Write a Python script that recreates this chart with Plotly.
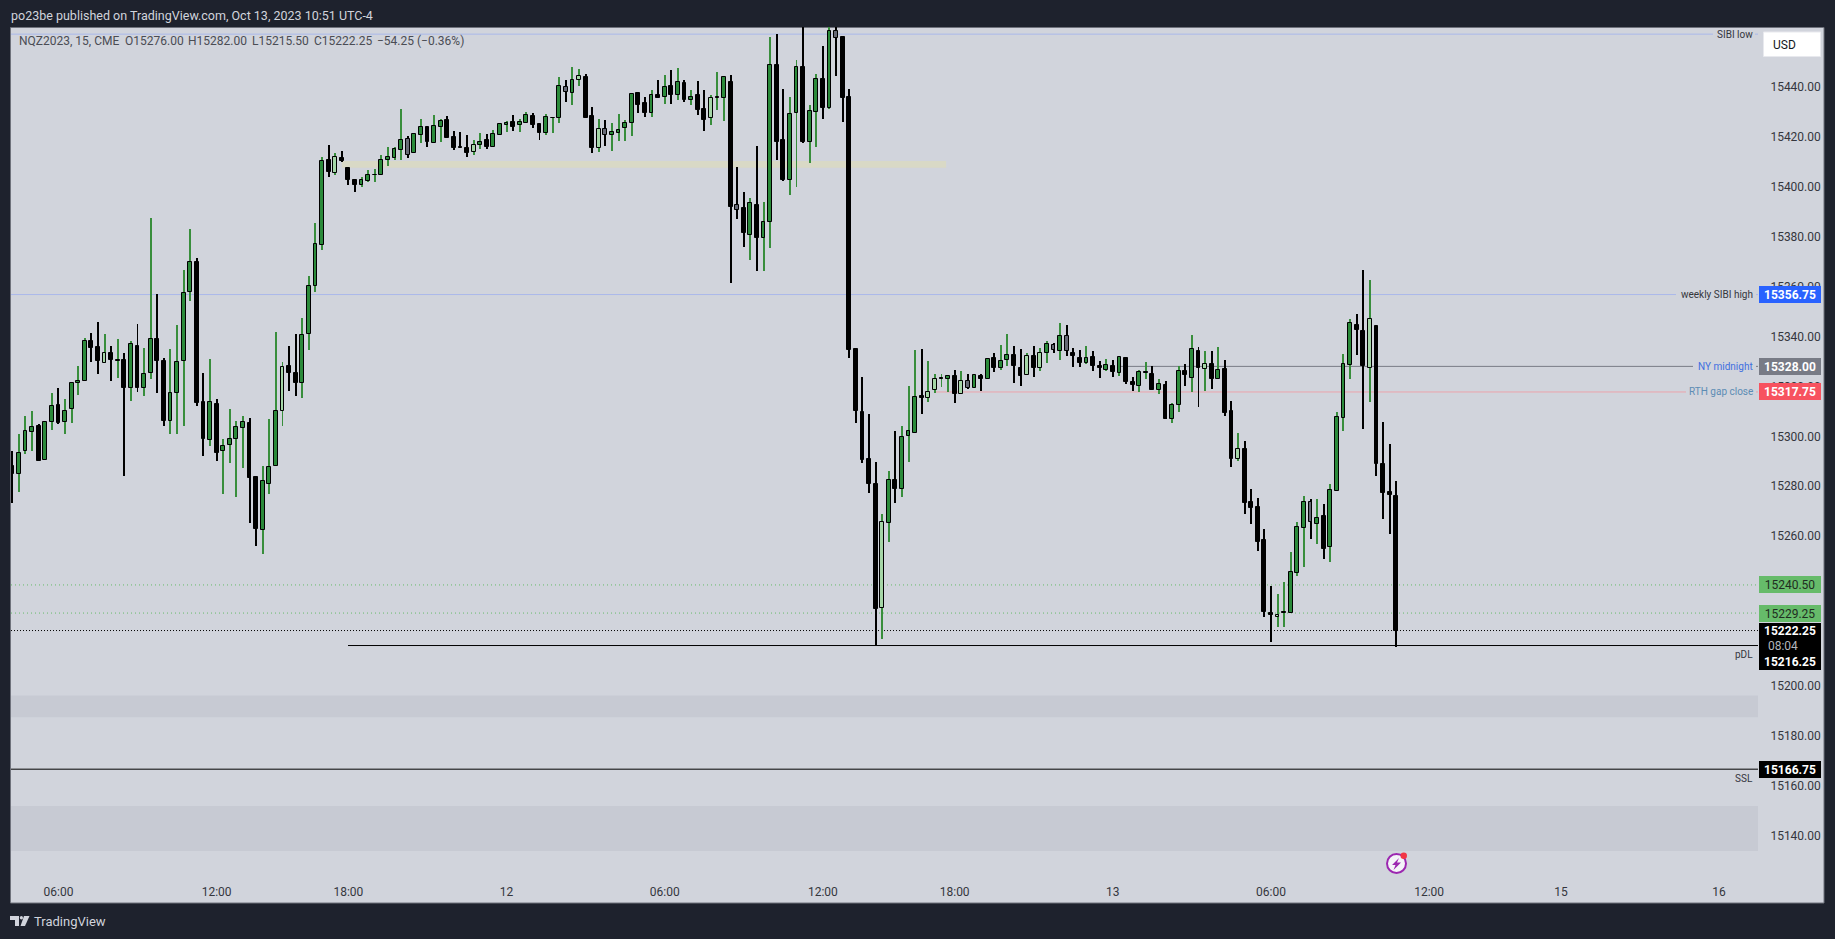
import plotly.graph_objects as go

# ---- bar kinds: G green, K black, L light green, Y grey, D black dash with green wick
kinds = list(
    "KGGGKGGKGG" "GGKKLKDKGK" "GGKKGGGGKK" "GKGGGGKKGG" "GLKKGGGGKL"
    "KKKGGDGGGG" "YGGKGGKKKK" "LGKGGGKGGK" "KGDGYGLKKL" "YGGGGKKGKG"
    "KGKGKKLDGK" "YKGKGGKKGG" "KGGKGYKKKK" "KKLGKGGGKL" "LDGKLYGKGK"
    "GGKKLKLGYG" "YKKGKKGKGK" "KGDKGKGGKG" "KLKGKKLKKK" "KKLDGGGYGK"
    "GGGGKKLKKK" "K"
)

highs = [15294,15301,15308.25,15310.25,15305,15306.25,15317.5,15319.5,15315,15321.75,15328.25,15339.5,15341.5,15345.75,15341,15336.25,15339,15333.5,15338.25,15345,15335.5,15387.5,15357,15331.5,15335,15344.75,15366.75,15383,15371.5,15325.5,15331,15314.75,15298.75,15311,15306.25,15308.25,15307.5,15283.75,15288.25,15306.75,15341.75,15329.75,15336.25,15341,15347.5,15364.25,15385.5,15411.75,
 15416.75,15413.25,15414.25,15407.5,15403,15403.75,15406.75,15407,15412.75,15415.75,15415.75,15431,15420.25,15421,15427,15424.25,15428.75,15427,15428.25,15422.25,15421.75,15420.75,15418.75,15421.25,15421,15422.75,15425,15426.25,15428.75,15427,15429.75,15429.25,15425,15429,15427.5,15443.75,15442.75,15447.75,15447,15445,15431.75,15427,15426.75,15425.5,15429,15426.75,15437.5,15437.5,15435.75,15438.75,15442.75,15444.75,15446.75,15447.5,15442.75,15438.75,15442.25,15438.75,15436.75,15445.75,15443.75,
 15444.75,15407.75,15397.75,15395.5,15416.25,15393.75,15459.75,15461,15439,15435.75,15450.75,15470,15432.75,15445,15456.25,15464.75,15468,15460.25,15439,
 15335,15323.75,15309,15289.75,15269,15286.25,15302.25,15304.25,15320.25,15334.75,15335,15330.25,15325,15324.75,15324.25,15326.75,15326.25,15325,15325,15324.75,15331,15333.5,15336.75,15341,15336.25,15335,15333.25,15336.25,15335.5,15338.25,15337.5,15345.5,15344.75,15335.5,15334.75,15336.25,15334.25,15330.25,15331,15330.75,15332.25,15331.75,15323.75,15326.75,15329.75,15328.25,15322.75,15322.25,15313.5,15328,15329,15340.75,15335.75,15334.25,15334.25,15335.75,15330.75,15314.25,15301.5,
 15298.25,15278.75,15275.5,15263,15240.25,15236.75,15241.5,15253.75,15265.75,15276.25,15274.75,15274.75,15272.75,15280.75,15309.75,15333,15347,15349,15366.75,15362.75,15344.25,15305.75,15296.75,15282]
body_tops = [15288.25,15293.25,15302.25,15303.75,15304.25,15305.75,15312.25,15312.5,15310.25,15321.25,15322.25,15338.25,15338.25,15335.75,15333.25,15333.25,15330.5,15330.5,15337,15336.25,15325,15339,15339,15330.25,15317.25,15329.75,15357.25,15369.75,15369.75,15313.75,15313.75,15313,15296.25,15299,15303.75,15305.75,15305.25,15283.75,15282.25,15287.75,15310.25,15327.75,15328.25,15325.25,15340.5,15360.25,15377,15410.25,
 15410.5,15411.75,15411.25,15407.25,15402.5,15402.5,15404.5,15404.75,15410.5,15411.75,15415,15418.5,15419,15421,15423.75,15423.75,15424.25,15426.25,15426.5,15419.75,15415.75,15415.25,15416.5,15417.75,15418.75,15421,15425,15425.25,15425.75,15425.75,15428.75,15428.25,15425,15427.75,15427.5,15440.25,15439.75,15442.75,15444.25,15443.75,15428.25,15423,15423,15421.75,15422.5,15425.25,15437,15437.25,15433.25,15436.5,15436.5,15439.75,15440.25,15441.75,15441.25,15435.75,15436.5,15431,15435.25,15435.75,15443.75,
 15441.75,15392.5,15391.25,15393.25,15392.5,15385.75,15448.5,15448.5,15418.5,15429,15447.75,15447.75,15430.25,15443,15443,15462.25,15462.25,15459.75,15435.75,
 15335,15309.75,15291,15281,15265.75,15282.5,15282.5,15299.75,15302.25,15315.75,15316.25,15317.75,15323,15323.25,15324.25,15324.25,15322.25,15322.25,15324.5,15324.25,15331,15331.25,15330.25,15332.5,15332.5,15327.25,15332.25,15332.25,15333.25,15337,15336.5,15340.25,15340.25,15333.25,15331.25,15331.25,15331.75,15328.25,15328.5,15328.25,15331.75,15331.25,15321.75,15325.75,15325.75,15325,15321,15320.5,15312.5,15326.25,15326.25,15335,15334.25,15329,15329,15326.5,15327,15310.25,15294.75,
 15295,15273.75,15271.75,15258.5,15229.25,15228.5,15229.5,15245.75,15263.75,15273.75,15273.75,15267.25,15268.25,15278.5,15307.75,15329,15345.25,15344.5,15342.25,15347,15344.25,15289,15277.75,15276]
body_bottoms = [15284.75,15284.75,15294.25,15301.75,15290,15290.5,15305.75,15305.5,15305.75,15311,15321.25,15322.25,15335.25,15330,15329.25,15330.5,15330.25,15319.25,15319.25,15319.5,15319.5,15325.25,15330,15306,15306.25,15317.25,15330.25,15357.75,15313.25,15298.75,15298.5,15293.5,15294,15296.5,15299,15303.5,15283.5,15262.75,15262.5,15281,15288,15310.25,15325.25,15321.25,15321.25,15341,15360.25,15376.75,
 15406,15405.5,15410.25,15402.5,15400.5,15400.5,15402.25,15404.5,15404.5,15410.75,15411.25,15414.5,15412.5,15413.25,15420.5,15418,15417.5,15424,15419.5,15415.25,15415.25,15413.5,15413.75,15416.5,15416,15416,15420.75,15424.5,15424,15424.5,15425.5,15424.5,15421.5,15421.25,15427.25,15427.5,15438,15437.5,15442.5,15427.5,15415.25,15415.5,15420.5,15420.5,15421.5,15423.25,15425.5,15432.75,15429.5,15429.5,15435.5,15435.75,15436.5,15436.5,15434.75,15434.5,15430.75,15426.75,15427.5,15435.25,15435.25,
 15392,15390.5,15381.25,15380.5,15379.25,15379.25,15385.75,15418,15402.75,15402.5,15429.25,15418,15418,15430,15431.5,15431.5,15459.5,15435.25,15334.75,
 15310,15290.5,15280.75,15230.75,15231.25,15265.25,15278.75,15278.75,15300,15301.5,15315.25,15315.25,15318.5,15323,15322.75,15316.75,15316.75,15319.25,15319.25,15322.75,15322.75,15327.25,15327.5,15330.5,15328,15324,15324.5,15327.5,15327.5,15333.25,15334.75,15334,15334,15332,15329.25,15329.25,15328,15327.25,15326.75,15325.75,15325.25,15321.75,15320.5,15320,15325.25,15318.5,15318.5,15306.75,15306.75,15312.5,15324.5,15323.5,15327.25,15327,15322.75,15322.75,15309.5,15290.75,15290.75,
 15273.5,15271.5,15257.5,15229.5,15228.5,15227.5,15229.25,15229.25,15245.25,15263.25,15265.75,15264.75,15254.75,15255.5,15278.25,15307.5,15328.75,15342.75,15328,15327.5,15288.75,15277.5,15276.5,15222.25]
lows = [15273.5,15277.75,15292.75,15294,15290,15290.5,15302.5,15305,15300.75,15305.5,15316.5,15322,15329.75,15325,15329.25,15322.25,15323.5,15284.25,15314.25,15317.75,15316.25,15323,15317.5,15304.25,15301,15300.75,15304.25,15354.25,15312.25,15292.25,15296.25,15290.25,15276.75,15289.5,15275.75,15287.5,15265.5,15256.25,15253,15277,15288,15304.25,15318.25,15316.25,15315.5,15334.75,15357.75,15374.5,
 15404,15404.75,15409.75,15400.75,15398,15400,15402,15401.75,15404.5,15408.25,15410.75,15410.75,15411.25,15413.25,15417.5,15415.75,15417.5,15417.75,15419.5,15414.75,15415.25,15411.75,15412.75,15415,15415,15416,15420.75,15421.75,15422.25,15421.75,15425.5,15423.25,15418.75,15420.75,15421.25,15425.25,15433.75,15432.75,15440.25,15427.25,15413.5,15413.75,15416.25,15414.25,15418.25,15418.25,15420.25,15429.25,15427.75,15427.75,15435.25,15433,15433,15434.75,15433.75,15432.75,15428.75,15422.25,15424.75,15430.5,15426.25,
 15361.5,15387,15375.75,15370.75,15366.25,15366.25,15375.5,15410.75,15402.25,15396.75,15399.75,15417.5,15409.5,15415.75,15427,15431,15444.25,15425.75,15331.5,
 15305.5,15289.25,15277.25,15216.5,15218.75,15257.75,15273.5,15275.75,15289.75,15301.5,15309,15313.75,15317.5,15319.75,15317.75,15313.5,15316.75,15318.75,15319.25,15318.25,15322.75,15325.75,15326.75,15328.25,15321.5,15320.25,15324.5,15323.75,15326.25,15329.5,15333.5,15330.75,15332.25,15327.75,15327.75,15329,15326.25,15323.5,15326.25,15323.75,15324.25,15321,15318.25,15317.75,15323,15318.5,15317,15306.75,15305.5,15309.75,15320.25,15317.75,15311.75,15318.25,15318.75,15322.75,15308.25,15287.75,15290.25,
 15268.75,15265,15254.25,15227.5,15217.5,15223.75,15223.5,15229.25,15244.25,15247.75,15259,15256.75,15251,15249.5,15278.25,15302.25,15323,15332.75,15302.75,15313.75,15284.25,15266.75,15260.75,15215.5]

assert len(kinds) == len(highs) == len(body_tops) == len(body_bottoms) == len(lows) == 211, (
    len(kinds), len(highs), len(body_tops), len(body_bottoms), len(lows))

tick_bars = [7, 31, 51, 75, 99, 123, 143, 167, 191, 215, 235, 259]
tick_labels = ["06:00", "12:00", "18:00", "12", "06:00", "12:00", "18:00", "13", "06:00", "12:00", "15", "16"]
price_ticks = [15140, 15160, 15180, 15200, 15220, 15240, 15260, 15280, 15300, 15320, 15340, 15360, 15380, 15400, 15420, 15440]

sibi_low = 15461
weekly_sibi_high = 15356.75
ny_midnight = 15328.00
rth_gap_close = 15317.75
fvg_a = 15240.50
fvg_b = 15229.25
last_close = 15222.25
pdl = 15216.25
ssl = 15166.75
beige_zone = (15407.5, 15410.25)
grey_zones = [(15187.5, 15196.25), (15134, 15152)]
legend_tokens = ["NQZ2023, 15, CME", "O15276.00", "H15282.00", "L15215.50", "C15222.25", "−54.25 (−0.36%)"]

# ---- page geometry
W, H = 1835, 939
L, R, T, B = 11, 1758, 27, 875
BAR0, STEP = 12.3, 6.59
PX_PER_POINT = 2.498
x_range = [(L - BAR0) / STEP, (R - BAR0) / STEP]
y_range = [15440 - (B - 86.6) / PX_PER_POINT, 15440 + (86.6 - T) / PX_PER_POINT]

def fx(px):
    return (px - L) / (R - L)

def fy(py):
    return (B - py) / (B - T)

BG = "#1e222d"
PANEL = "#d1d4dc"
FONT = "Roboto, 'Noto Sans', sans-serif"
DARK = "#34363d"

n = len(highs)
bars = list(range(n))
WICK = {"G": "#388e3c", "L": "#388e3c", "D": "#388e3c", "K": "#000000", "Y": "#000000"}
FILL = {"G": "#2b8a3a", "L": "#a5d6a7", "K": "#000000", "Y": "#666975", "D": "#000000"}

fig = go.Figure()
fig.add_trace(go.Bar(
    x=bars, base=lows, y=[h - l for h, l in zip(highs, lows)], width=0.15,
    marker=dict(color=[WICK[k] for k in kinds], line=dict(width=0)),
    hoverinfo="skip", showlegend=False,
))
fig.add_trace(go.Bar(
    x=bars, base=body_bottoms, y=[t - b for t, b in zip(body_tops, body_bottoms)], width=0.58,
    marker=dict(color=[FILL[k] for k in kinds], line=dict(width=1, color="#000000")),
    hoverinfo="skip", showlegend=False,
))

shapes = []
shapes.append(dict(type="rect", xref="paper", yref="paper", layer="below",
                   x0=fx(10.5), x1=fx(1824), y0=fy(903), y1=fy(27.5),
                   fillcolor=PANEL, line=dict(color="#6f727c", width=1)))
for lo, hi in grey_zones:
    shapes.append(dict(type="rect", xref="paper", yref="y", layer="below", x0=0, x1=1,
                       y0=lo, y1=hi, fillcolor="#c7cad3", line=dict(width=0)))
shapes.append(dict(type="rect", xref="x", yref="y", layer="below", x0=50, x1=141.7,
                   y0=beige_zone[0], y1=beige_zone[1], fillcolor="#d9d9c6", line=dict(width=0)))

def hline(price, px0, px1, color, dash="solid", width=1):
    shapes.append(dict(type="line", xref="paper", yref="y", layer="below",
                       x0=fx(px0), x1=fx(px1), y0=price, y1=price,
                       line=dict(color=color, width=width, dash=dash)))

BLUE_LINE = "#aab8ea"
hline(sibi_low, L, 1713, BLUE_LINE); hline(sibi_low, 1755, R, BLUE_LINE)
hline(weekly_sibi_high, L, 1676, BLUE_LINE); hline(weekly_sibi_high, 1756, R, BLUE_LINE)
hline(ny_midnight, 1121, 1693, "#787b86"); hline(ny_midnight, 1756, R, "#787b86")
hline(rth_gap_close, 935, 1686, "#eba3ac"); hline(rth_gap_close, 1756, R, "#eba3ac")
hline(fvg_a, L, R, "#66bb6a", dash="1px,3px")
hline(fvg_b, L, R, "#66bb6a", dash="1px,3px")
hline(last_close, L, R, "#000000", dash="1px,2px")
hline(pdl, 348, R, "#000000")
hline(ssl, L, R, "#000000")

shapes.append(dict(type="rect", xref="paper", yref="paper", x0=fx(1763.5), x1=fx(1820.5), y0=fy(56.5), y1=fy(32),
                   fillcolor="#ffffff", line=dict(color="#e8e9ee", width=1), layer="above"))

def poly(pts):
    return "M " + " L ".join(f"{fx(a):.6f},{fy(b):.6f}" for a, b in pts) + " Z"

for pts in [
    [(10, 916), (19, 916), (19, 926), (15, 926), (15, 920), (10, 920)],
    [(24, 916), (29.5, 916), (25, 926), (20.5, 926)],
]:
    shapes.append(dict(type="path", xref="paper", yref="paper", path=poly(pts),
                       fillcolor="#d1d4dc", line=dict(width=0)))
shapes.append(dict(type="circle", xref="paper", yref="paper", x0=fx(19.8), x1=fx(23), y0=fy(919.5), y1=fy(916),
                   fillcolor="#d1d4dc", line=dict(width=0)))

shapes.append(dict(type="circle", xref="paper", yref="paper", x0=fx(1387), x1=fx(1406), y0=fy(873), y1=fy(854),
                   fillcolor="#f4f4f8", line=dict(color="#9c27b0", width=2)))
shapes.append(dict(type="path", xref="paper", yref="paper",
                   path=poly([(1399, 858), (1392, 865), (1395.5, 865), (1393.5, 870), (1401, 862.5), (1397, 862.5)]),
                   fillcolor="#9c27b0", line=dict(width=0)))
shapes.append(dict(type="circle", xref="paper", yref="paper", x0=fx(1400.5), x1=fx(1407), y0=fy(859), y1=fy(852.5),
                   fillcolor="#f23645", line=dict(width=0)))

ann = []

def text(px, py, s, color=DARK, size=12, anchor="left", **kw):
    ann.append(dict(xref="paper", yref="paper", x=fx(px), y=fy(py), text=s, showarrow=False,
                    xanchor=anchor, yanchor="middle", borderpad=0,
                    font=dict(family=FONT, size=size, color=color), **kw))

def line_label(price, s, color=DARK, shift=0):
    ann.append(dict(xref="paper", yref="y", x=fx(1753), y=price, yshift=shift, text=s, showarrow=False,
                    xanchor="right", yanchor="middle", borderpad=0, borderwidth=0,
                    font=dict(family=FONT, size=10, color=color)))

def price_box(price, bg, color="#ffffff", shift=0, label=None, h=17, align="center"):
    ann.append(dict(xref="paper", yref="y", x=fx(1759), y=price, yshift=shift,
                    text=f"<b>{price:.2f}</b>" if label is None else label,
                    showarrow=False, xanchor="left", yanchor="middle", width=62, height=h, align=align,
                    valign="middle", bgcolor=bg, borderpad=0, borderwidth=0,
                    font=dict(family=FONT, size=12, color=color)))

text(10, 15, "po23be published on TradingView.com, Oct 13, 2023 10:51 UTC-4", color="#d1d4dc", size=12.5)
for px, token in zip([18, 123.7, 187.3, 251, 312.7, 376], legend_tokens):
    text(px, 41.5, token, color="#4a4c54", size=12)
text(33, 921, "TradingView", color="#d1d4dc", size=13)
text(1772, 44.5, "USD", color="#131722", size=12)

line_label(sibi_low, "SIBI low")
line_label(weekly_sibi_high, "weekly SIBI high")
line_label(ny_midnight, "NY midnight", color="#3f6fe0")
line_label(rth_gap_close, "RTH gap close", color="#5c8cb4")
line_label(pdl, "pDL", shift=-9)
line_label(ssl, "SSL", shift=-9)

price_box(weekly_sibi_high, "#2962ff")
price_box(ny_midnight, "#787b86")
price_box(rth_gap_close, "#f7525f")
price_box(fvg_a, "#66bb6a", color="#1f2d21", label=f"{fvg_a:.2f}")
price_box(fvg_b, "#66bb6a", color="#1f2d21", label=f"{fvg_b:.2f}")
price_box(last_close, "#000000", h=16)
price_box(pdl, "#000000", label="&nbsp;&nbsp;&nbsp;08:04", color="#b4b6bd", h=16, align="left")
price_box(pdl, "#000000", shift=-16, h=16)
price_box(ssl, "#000000")

fig.update_layout(
    width=W, height=H, autosize=False,
    margin=dict(l=L, r=W - R, t=T, b=H - B, pad=0),
    paper_bgcolor=BG, plot_bgcolor=PANEL,
    barmode="overlay", bargap=0, showlegend=False,
    shapes=shapes, annotations=ann,
    font=dict(family=FONT, size=12, color=DARK),
    xaxis=dict(range=x_range, tickmode="array", tickvals=tick_bars, ticktext=tick_labels,
               showgrid=False, zeroline=False, showline=False, ticks="outside", ticklen=6,
               tickcolor="rgba(0,0,0,0)", tickfont=dict(family=FONT, size=12, color=DARK), fixedrange=True),
    yaxis=dict(range=y_range, side="right", tickmode="array", tickvals=price_ticks,
               ticktext=[f"{p:.2f}" for p in price_ticks],
               showgrid=False, zeroline=False, showline=False, ticks="outside", ticklen=9,
               tickcolor="rgba(0,0,0,0)", tickfont=dict(family=FONT, size=12, color=DARK), fixedrange=True),
)

fig.write_html("out.html", config={"displayModeBar": False},
               post_script="document.body.style.margin='0';document.body.style.background='#1e222d';document.body.style.overflow='hidden';")
